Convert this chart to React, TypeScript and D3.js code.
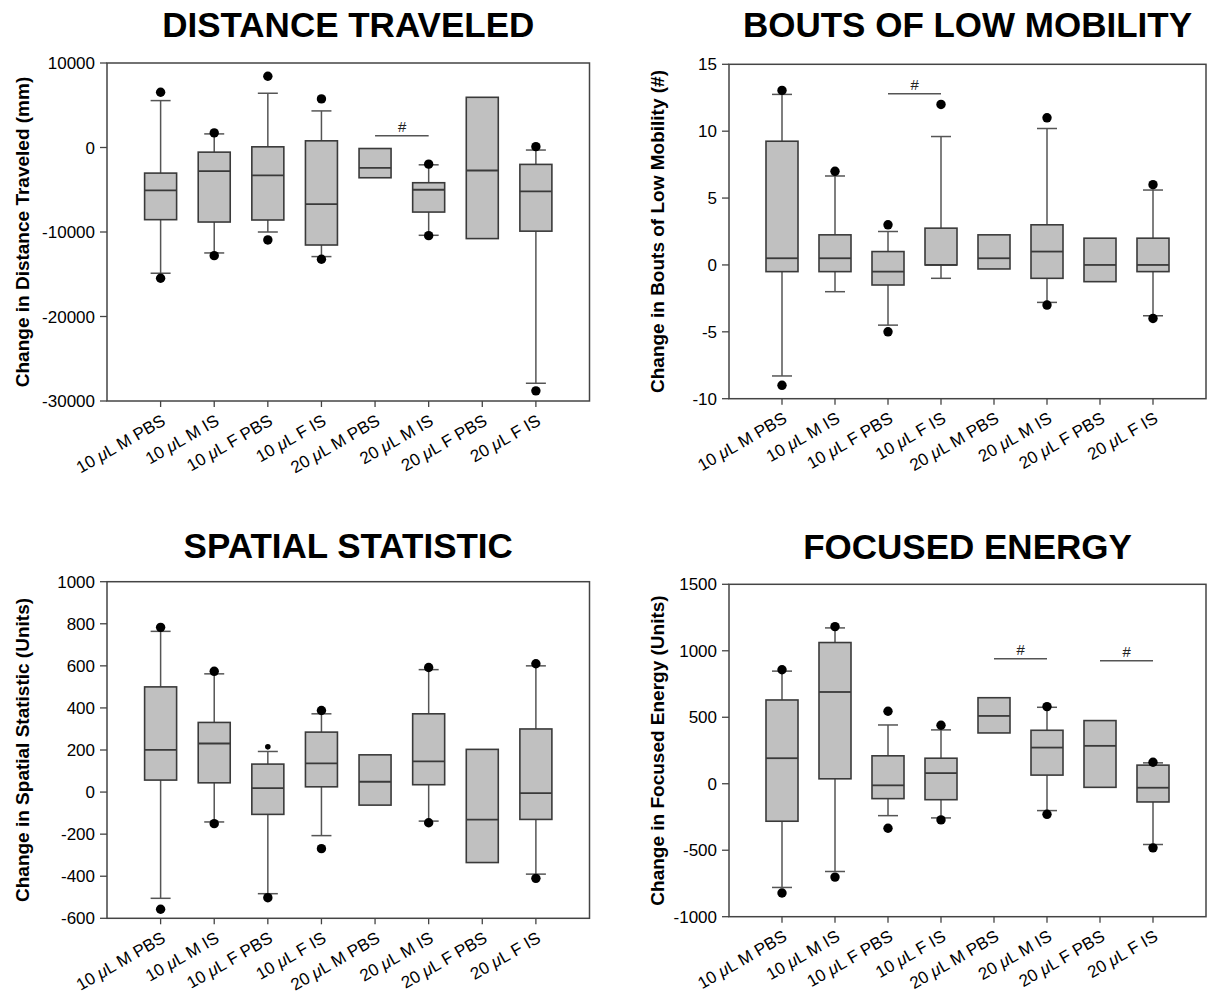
import React from "react";
import * as d3 from "d3";

const categories = [
  "10 μL M PBS",
  "10 μL M IS",
  "10 μL F PBS",
  "10 μL F IS",
  "20 μL M PBS",
  "20 μL M IS",
  "20 μL F PBS",
  "20 μL F IS",
];

// ---- Distance traveled ----
const distLowOut = [-15470, -12800, -10940, -13230, null, -10430, null, -28800];
const distLowCap = [-14880, -12480, -10000, -12910, null, -10390, null, -27900];
const distQ1 = [-8540, -8820, -8580, -11540, -3580, -7640, -10780, -9900];
const distMed = [-5080, -2800, -3310, -6690, -2400, -5000, -2720, -5200];
const distQ3 = [-3030, -550, 80, 790, -120, -4170, 5940, -2000];
const distHighCap = [5550, 1610, 6420, 4330, null, -2050, null, -300];
const distHighOut = [6535, 1730, 8430, 5750, null, -1970, null, 100];
const distTicks = [10000, 0, -10000, -20000, -30000];

// ---- Bouts of low mobility ----
const boutLowOut = [-9, null, -5, null, null, -3, null, -4];
const boutLowCap = [-8.3, -2, -4.5, -1, null, -2.8, null, -3.8];
const boutQ1 = [-0.5, -0.5, -1.5, 0, -0.3, -1, -1.25, -0.5];
const boutMed = [0.5, 0.5, -0.5, 0, 0.5, 1, 0, 0];
const boutQ3 = [9.25, 2.25, 1, 2.75, 2.25, 3, 2, 2];
const boutHighCap = [12.75, 6.65, 2.5, 9.6, null, 10.2, null, 5.6];
const boutHighOut = [13.05, 7, 3, 12, null, 11, null, 6];
const boutTicks = [15, 10, 5, 0, -5, -10];

// ---- Spatial statistic ----
const spatLowOut = [-557, -150, -502, -269, null, -146, null, -410];
const spatLowCap = [-505, -142, -483, -207, null, -138, null, -390];
const spatQ1 = [57, 44, -106, 25, -62, 35, -335, -130];
const spatMed = [201, 231, 19, 136, 49, 146, -131, -5];
const spatQ3 = [500, 331, 133, 285, 177, 372, 203, 300];
const spatHighCap = [764, 562, 193, 372, null, 582, null, 600];
const spatHighOut = [783, 574, 215, 388, null, 592, null, 610];
const spatSmallHigh = [false, false, true, false, false, false, false, false];
const spatTicks = [1000, 800, 600, 400, 200, 0, -200, -400, -600];

// ---- Focused energy ----
const focLowOut = [-822, -702, -335, -272, null, -230, null, -482];
const focLowCap = [-780, -660, -240, -257, null, -202, null, -457];
const focQ1 = [-282, 37, -112, -120, 382, 65, -27, -137];
const focMed = [192, 690, -12, 80, 510, 272, 285, -30];
const focQ3 = [630, 1062, 210, 192, 647, 402, 475, 140];
const focHighCap = [847, 1172, 442, 405, null, 575, null, 157];
const focHighOut = [857, 1182, 545, 440, null, 580, null, 162];
const focTicks = [1500, 1000, 500, 0, -500, -1000];

// significance bars: [fromIndex, toIndex, value]
const distBars = [[4, 5, 1380]];
const boutBars = [[2, 3, 12.8]];
const focBars = [[4, 5, 940], [6, 7, 925]];

const FONT = "'Liberation Sans', Arial, Helvetica, sans-serif";

type Frame = { left: number; right: number; top: number; bottom: number };

function CatLabel({ text }: { text: string }) {
  const i = text.indexOf("μ");
  if (i < 0) return <>{text}</>;
  return (
    <>
      {text.slice(0, i)}
      <tspan fontStyle="italic">μ</tspan>
      {text.slice(i + 1)}
    </>
  );
}

function BoxPanel(props: {
  title: string;
  yLabel: string;
  domain: [number, number];
  ticks: number[];
  frame: Frame;
  lowOut: (number | null)[];
  lowCap: (number | null)[];
  q1: number[];
  med: number[];
  q3: number[];
  highCap: (number | null)[];
  highOut: (number | null)[];
  smallHigh?: boolean[];
  bars?: number[][];
  titleY: number;
  yLabelX: number;
}) {
  const { frame: f } = props;
  const x = d3.scalePoint<string>().domain(categories).range([f.left, f.right]).padding(1);
  const y = d3.scaleLinear().domain(props.domain).range([f.bottom, f.top]);
  const bw = 32;
  const cw = 20;
  const boxStroke = "#3a3a3a";
  const whisk = "#555";
  return (
    <g fontFamily={FONT}>
      <text
        x={(f.left + f.right) / 2}
        y={props.titleY}
        textAnchor="middle"
        fontSize={35}
        fontWeight="bold"
        fill="#000"
      >
        {props.title}
      </text>
      <text
        transform={`translate(${props.yLabelX},${(f.top + f.bottom) / 2}) rotate(-90)`}
        textAnchor="middle"
        dy="0.35em"
        fontSize={19}
        fontWeight="bold"
        fill="#000"
      >
        {props.yLabel}
      </text>
      {/* y ticks */}
      {props.ticks.map((t) => (
        <g key={"yt" + t}>
          <line x1={f.left - 7} x2={f.left} y1={y(t)} y2={y(t)} stroke="#444" strokeWidth={1.3} />
          <text x={f.left - 12} y={y(t)} dy="0.36em" textAnchor="end" fontSize={17} fill="#000">
            {String(t)}
          </text>
        </g>
      ))}
      {/* x ticks */}
      {categories.map((c) => (
        <g key={"xt" + c}>
          <line x1={x(c)} x2={x(c)} y1={f.bottom} y2={f.bottom + 6} stroke="#444" strokeWidth={1.3} />
          <text
            transform={`translate(${(x(c) as number) + 6},${f.bottom + 23}) rotate(-30)`}
            textAnchor="end"
            fontSize={17}
            fill="#000"
          >
            <CatLabel text={c} />
          </text>
        </g>
      ))}
      {/* boxes */}
      {categories.map((c, i) => {
        const cx = x(c) as number;
        const lc = props.lowCap[i];
        const hc = props.highCap[i];
        const lo = props.lowOut[i];
        const ho = props.highOut[i];
        const small = props.smallHigh ? props.smallHigh[i] : false;
        return (
          <g key={"b" + c}>
            {lc !== null && (
              <>
                <line x1={cx} x2={cx} y1={y(props.q1[i])} y2={y(lc)} stroke={whisk} strokeWidth={1.5} />
                <line x1={cx - cw / 2} x2={cx + cw / 2} y1={y(lc)} y2={y(lc)} stroke={whisk} strokeWidth={1.5} />
              </>
            )}
            {hc !== null && (
              <>
                <line x1={cx} x2={cx} y1={y(props.q3[i])} y2={y(hc)} stroke={whisk} strokeWidth={1.5} />
                <line x1={cx - cw / 2} x2={cx + cw / 2} y1={y(hc)} y2={y(hc)} stroke={whisk} strokeWidth={1.5} />
              </>
            )}
            <rect
              x={cx - bw / 2}
              y={y(props.q3[i])}
              width={bw}
              height={y(props.q1[i]) - y(props.q3[i])}
              fill="#c0c0c0"
              stroke={boxStroke}
              strokeWidth={1.6}
            />
            <line
              x1={cx - bw / 2}
              x2={cx + bw / 2}
              y1={y(props.med[i])}
              y2={y(props.med[i])}
              stroke={boxStroke}
              strokeWidth={1.8}
            />
            {lo !== null && <circle cx={cx} cy={y(lo)} r={4.7} fill="#000" />}
            {ho !== null && <circle cx={cx} cy={y(ho)} r={small ? 2.8 : 4.7} fill="#000" />}
          </g>
        );
      })}
      {/* significance bars */}
      {(props.bars || []).map((b, k) => {
        const x1 = x(categories[b[0]]) as number;
        const x2 = x(categories[b[1]]) as number;
        const yy = y(b[2]);
        return (
          <g key={"sig" + k}>
            <line x1={x1} x2={x2} y1={yy} y2={yy} stroke="#555" strokeWidth={1.5} />
            <text x={(x1 + x2) / 2} y={yy - 4} textAnchor="middle" fontSize={15} fontStyle="italic" fill="#222">
              #
            </text>
          </g>
        );
      })}
      {/* frame */}
      <rect
        x={f.left}
        y={f.top}
        width={f.right - f.left}
        height={f.bottom - f.top}
        fill="none"
        stroke="#444"
        strokeWidth={1.5}
      />
    </g>
  );
}

export default function App() {
  return (
    <svg
      width={1207}
      height={998}
      viewBox="0 0 1207 998"
      style={{ position: "absolute", left: 0, top: 0, background: "#fff" }}
    >
      <rect x={0} y={0} width={1207} height={998} fill="#fff" />
      <BoxPanel
        title="DISTANCE TRAVELED"
        yLabel="Change in Distance Traveled (mm)"
        domain={[-30000, 10000]}
        ticks={distTicks}
        frame={{ left: 107, right: 589.5, top: 63, bottom: 401 }}
        lowOut={distLowOut}
        lowCap={distLowCap}
        q1={distQ1}
        med={distMed}
        q3={distQ3}
        highCap={distHighCap}
        highOut={distHighOut}
        bars={distBars}
        titleY={37}
        yLabelX={22}
      />
      <BoxPanel
        title="BOUTS OF LOW MOBILITY"
        yLabel="Change in Bouts of Low Mobility (#)"
        domain={[-10, 15]}
        ticks={boutTicks}
        frame={{ left: 729, right: 1206, top: 64.3, bottom: 398.7 }}
        lowOut={boutLowOut}
        lowCap={boutLowCap}
        q1={boutQ1}
        med={boutMed}
        q3={boutQ3}
        highCap={boutHighCap}
        highOut={boutHighOut}
        bars={boutBars}
        titleY={37}
        yLabelX={657}
      />
      <BoxPanel
        title="SPATIAL STATISTIC"
        yLabel="Change in Spatial Statistic (Units)"
        domain={[-600, 1000]}
        ticks={spatTicks}
        frame={{ left: 107, right: 589.5, top: 581.7, bottom: 918.3 }}
        lowOut={spatLowOut}
        lowCap={spatLowCap}
        q1={spatQ1}
        med={spatMed}
        q3={spatQ3}
        highCap={spatHighCap}
        highOut={spatHighOut}
        smallHigh={spatSmallHigh}
        titleY={558}
        yLabelX={22}
      />
      <BoxPanel
        title="FOCUSED ENERGY"
        yLabel="Change in Focused Energy (Units)"
        domain={[-1000, 1500]}
        ticks={focTicks}
        frame={{ left: 729, right: 1206, top: 584.3, bottom: 916.7 }}
        lowOut={focLowOut}
        lowCap={focLowCap}
        q1={focQ1}
        med={focMed}
        q3={focQ3}
        highCap={focHighCap}
        highOut={focHighOut}
        bars={focBars}
        titleY={559}
        yLabelX={657}
      />
    </svg>
  );
}
